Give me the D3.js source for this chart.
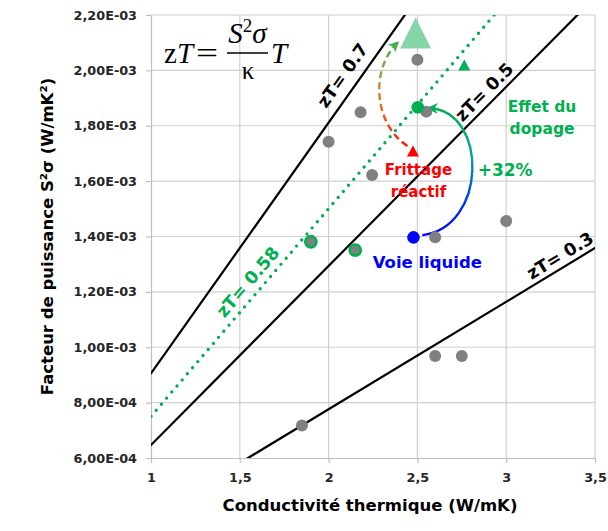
<!DOCTYPE html>
<html><head><meta charset="utf-8">
<script src="https://cdn.jsdelivr.net/npm/d3@7/dist/d3.min.js"></script>
<style>
html,body{margin:0;padding:0;background:#fff;}
svg{display:block;}
text.b{font-family:"DejaVu Sans",sans-serif;font-weight:bold;}
text.m{font-family:"Liberation Serif","DejaVu Serif",serif;font-weight:normal;}
</style></head>
<body>
<svg id="chart" width="608" height="531"></svg>
<script>
// ---------- data ----------
const xTicks = [1, 1.5, 2, 2.5, 3, 3.5];
const xTickLabels = ["1", "1,5", "2", "2,5", "3", "3,5"];
const yTicks = [6e-4, 8e-4, 1.0e-3, 1.2e-3, 1.4e-3, 1.6e-3, 1.8e-3, 2.0e-3, 2.2e-3];
const yTickLabels = ["6,00E-04", "8,00E-04", "1,00E-03", "1,20E-03", "1,40E-03", "1,60E-03", "1,80E-03", "2,00E-03", "2,20E-03"];

// other samples (grey)
const greyK  = [1.85, 2.0, 2.18, 2.245, 2.5, 2.55, 2.6, 2.6, 2.75, 3.0];
const greyPF = [0.717e-3, 1.742e-3, 1.849e-3, 1.622e-3, 2.038e-3, 1.851e-3, 1.397e-3, 0.968e-3, 0.968e-3, 1.456e-3];
// grey samples circled in green
const circledK  = [1.9, 2.15];
const circledPF = [1.381e-3, 1.351e-3];
// voie liquide (blue), dopage (green), frittage reactif (red triangle)
const liquidK = [2.478],  liquidPF = [1.397e-3];
const dopedK = [2.502],   dopedPF = [1.867e-3];
const reactiveK = [2.475], reactivePF = [1.709e-3];
// targets (triangles)
const targetSmallK = [2.764], targetSmallPF = [2.019e-3];
const targetBigK = [2.49],   targetBigPF = [2.135e-3];

// iso-zT lines: S2sigma = zT * kappa / T
const zTValues = [0.7, 0.58, 0.5, 0.3];
const zTLabels = ["zT= 0.7", "zT= 0.58", "zT= 0.5", "zT= 0.3"];
const temperature = 773;

// ---------- layout ----------
const svg = d3.select("#chart");
const L = 151, R = 595, T = 15, B = 458;
const x = d3.scaleLinear().domain([1, 3.5]).range([L, R]);
const y = d3.scaleLinear().domain([6e-4, 2.2e-3]).range([B, T]);
const GREEN = "#00b050", RED = "#ff0000", BLUE = "#0000ff", GREY = "#808080";

const defs = svg.append("defs");
defs.append("clipPath").attr("id", "plotclip")
  .append("rect").attr("x", L).attr("y", T).attr("width", R - L).attr("height", B - T);

// gridlines
const grid = svg.append("g");
grid.selectAll("line.v").data(xTicks.slice(1)).join("line")
  .attr("x1", d => x(d)).attr("x2", d => x(d)).attr("y1", T).attr("y2", B)
  .attr("stroke", "#d0d0d0").attr("stroke-width", 1.2);
grid.selectAll("line.h").data(yTicks.slice(1)).join("line")
  .attr("x1", L).attr("x2", R).attr("y1", d => y(d)).attr("y2", d => y(d))
  .attr("stroke", "#d0d0d0").attr("stroke-width", 1.2);

// axes
const xAxis = svg.append("g").attr("transform", `translate(0,${B})`)
  .call(d3.axisBottom(x).tickValues(xTicks).tickFormat((d, i) => xTickLabels[i]).tickSize(5).tickSizeOuter(0).tickPadding(10));
const yAxis = svg.append("g").attr("transform", `translate(${L},0)`)
  .call(d3.axisLeft(y).tickValues(yTicks).tickFormat((d, i) => yTickLabels[i]).tickSize(5).tickSizeOuter(0).tickPadding(9));
[xAxis, yAxis].forEach(a => {
  a.select(".domain").attr("stroke", "#bfbfbf").attr("stroke-width", 1.2);
  a.selectAll(".tick line").attr("stroke", "#bfbfbf").attr("stroke-width", 1.2);
  a.selectAll(".tick text").attr("class", "b").attr("fill", "#262626").style("font-size", "12.8px");
});

// axis titles
svg.append("text").attr("class", "b").attr("x", (L + R) / 2 - 3).attr("y", 511).attr("text-anchor", "middle")
  .attr("fill", "#000").style("font-size", "16.5px").text("Conductivité thermique (W/mK)");
svg.append("text").attr("class", "b").attr("transform", `translate(47,${(T + B) / 2}) rotate(-90)`).attr("text-anchor", "middle")
  .attr("dy", "0.35em").attr("fill", "#000").style("font-size", "16.5px")
  .text("Facteur de puissance S²σ (W/mK²)");

// iso-zT lines
const lines = svg.append("g").attr("clip-path", "url(#plotclip)");
zTValues.forEach(z => {
  const pts = [[1, z * 1 / temperature], [3.5, z * 3.5 / temperature]];
  const isDotted = z === 0.58;
  lines.append("line")
    .attr("x1", x(pts[0][0])).attr("y1", y(pts[0][1]))
    .attr("x2", x(pts[1][0])).attr("y2", y(pts[1][1]))
    .attr("stroke", isDotted ? GREEN : "#000")
    .attr("stroke-width", isDotted ? 3.4 : 2.2)
    .attr("stroke-linecap", "round")
    .attr("stroke-dasharray", isDotted ? "0 8" : null);
});

// iso-zT labels
const lineLabelK = [2.152, 1.604, 2.924, 3.337];
const lineLabelOff = [16, 13.8, 12, 11.6];
zTValues.forEach((z, i) => {
  const ang = Math.atan2(-(y(z * 3.5 / temperature) - y(z / temperature)), x(3.5) - x(1)) * 180 / Math.PI;
  const k = lineLabelK[i];
  svg.append("text").attr("class", "b")
    .attr("transform", `translate(${x(k)},${y(z * k / temperature)}) rotate(${-ang}) translate(0,${-lineLabelOff[i]})`)
    .attr("text-anchor", "middle").attr("dy", "0.35em")
    .attr("fill", z === 0.58 ? GREEN : "#000").style("font-size", "17.5px")
    .text(zTLabels[i]);
});

// formula zT = S^2 sigma / kappa * T
const f = svg.append("g");
f.append("text").attr("class", "m").attr("x", 164).attr("y", 63).style("font-size", "29px")
  .html('z<tspan font-style="italic">T</tspan>');
f.append("text").attr("class", "m").attr("transform", "translate(196,63) scale(1.35,1)").style("font-size", "29px").text("=");
f.append("text").attr("class", "m").attr("x", 247.5).attr("y", 43).attr("text-anchor", "middle").style("font-size", "29px")
  .html('<tspan font-style="italic">S</tspan><tspan dy="-11" font-size="19px">2</tspan><tspan dy="11" font-style="italic">σ</tspan>');
f.append("line").attr("x1", 227).attr("x2", 268).attr("y1", 53).attr("y2", 53).attr("stroke", "#000").attr("stroke-width", 1.3);
f.append("text").attr("class", "m").attr("x", 248).attr("y", 79).attr("text-anchor", "middle").style("font-size", "25px").text("κ");
f.append("text").attr("class", "m").attr("x", 271).attr("y", 63).style("font-size", "29px").style("font-style", "italic").text("T");

// gradients for arrows
const gDash = defs.append("linearGradient").attr("id", "gdash").attr("gradientUnits", "userSpaceOnUse")
  .attr("x1", 0).attr("x2", 0).attr("y1", y(1.727e-3)).attr("y2", y(2.095e-3));
[[0, "#ff1a00"], [0.4, "#e8702a"], [0.75, "#9aa040"], [1, "#3fae49"]].forEach(s =>
  gDash.append("stop").attr("offset", s[0]).attr("stop-color", s[1]));
const gSolid = defs.append("linearGradient").attr("id", "gsolid").attr("gradientUnits", "userSpaceOnUse")
  .attr("x1", 0).attr("x2", 0).attr("y1", y(1.405e-3)).attr("y2", y(1.864e-3));
[[0, "#0000ff"], [0.3, "#0040f0"], [0.6, "#00a0a0"], [1, "#00b050"]].forEach(s =>
  gSolid.append("stop").attr("offset", s[0]).attr("stop-color", s[1]));

function marker(id, color) {
  defs.append("marker").attr("id", id).attr("viewBox", "0 0 10 10").attr("refX", 8).attr("refY", 5)
    .attr("markerWidth", 11).attr("markerHeight", 11).attr("markerUnits", "userSpaceOnUse").attr("orient", "auto")
    .append("path").attr("d", "M0,0 L10,5 L0,10 L3,5 Z").attr("fill", color);
}
marker("mdash", "#3fae49");
marker("msolid", "#00b050");

// arrow control points in data coordinates [kappa, PF]
const dashArrow = [[2.444, 1.727e-3], [2.258, 1.803e-3], [2.230, 2.001e-3], [2.388, 2.100e-3]];
const solidArrow = [[2.528, 1.405e-3], [2.890, 1.431e-3], [2.904, 1.852e-3], [2.565, 1.864e-3]];
function bez(p) {
  const q = p.map(d => [x(d[0]), y(d[1])]);
  return `M${q[0]} C${q[1]} ${q[2]} ${q[3]}`;
}
svg.append("path").attr("d", bez(dashArrow)).attr("fill", "none").attr("stroke", "url(#gdash)")
  .attr("stroke-width", 2.4).attr("stroke-dasharray", "7 4").attr("marker-end", "url(#mdash)");
svg.append("path").attr("d", bez(solidArrow)).attr("fill", "none").attr("stroke", "url(#gsolid)")
  .attr("stroke-width", 2.4).attr("marker-end", "url(#msolid)");

// big target triangle
function tri(cx, cy, w, h) {
  return `M${cx},${cy - h / 2} L${cx + w / 2},${cy + h / 2} L${cx - w / 2},${cy + h / 2} Z`;
}
svg.append("g").selectAll("path").data(targetBigK).join("path")
  .attr("d", (d, i) => tri(x(d), y(targetBigPF[i]), 31, 31)).attr("fill", "#7fd3a3").attr("opacity", 0.95);

// grey points
svg.append("g").selectAll("circle").data(greyK).join("circle")
  .attr("cx", d => x(d)).attr("cy", (d, i) => y(greyPF[i])).attr("r", 6).attr("fill", GREY);
svg.append("g").selectAll("circle").data(circledK).join("circle")
  .attr("cx", d => x(d)).attr("cy", (d, i) => y(circledPF[i])).attr("r", 5.6).attr("fill", GREY)
  .attr("stroke", GREEN).attr("stroke-width", 2.6);

// special points
svg.append("g").selectAll("circle").data(dopedK).join("circle")
  .attr("cx", d => x(d)).attr("cy", (d, i) => y(dopedPF[i])).attr("r", 6.3).attr("fill", GREEN);
svg.append("g").selectAll("circle").data(liquidK).join("circle")
  .attr("cx", d => x(d)).attr("cy", (d, i) => y(liquidPF[i])).attr("r", 6.3).attr("fill", BLUE);
svg.append("g").selectAll("path").data(reactiveK).join("path")
  .attr("d", (d, i) => tri(x(d), y(reactivePF[i]), 12, 11)).attr("fill", RED);
svg.append("g").selectAll("path").data(targetSmallK).join("path")
  .attr("d", (d, i) => tri(x(d), y(targetSmallPF[i]), 12, 11)).attr("fill", GREEN);

// annotations
function ann(k, pf, txt, color, size) {
  svg.append("text").attr("class", "b").attr("x", x(k)).attr("y", y(pf)).attr("dy", "0.35em").attr("text-anchor", "middle")
    .attr("fill", color).style("font-size", size + "px").text(txt);
}
ann(3.202, 1.871e-3, "Effet du", GREEN, 15.5);
ann(3.202, 1.788e-3, "dopage", GREEN, 15.5);
ann(2.994, 1.640e-3, "+32%", GREEN, 17);
ann(2.506, 1.640e-3, "Frittage", RED, 15);
ann(2.506, 1.561e-3, "réactif", RED, 15);
ann(2.556, 1.308e-3, "Voie liquide", BLUE, 16.5);
</script>
</body></html>
